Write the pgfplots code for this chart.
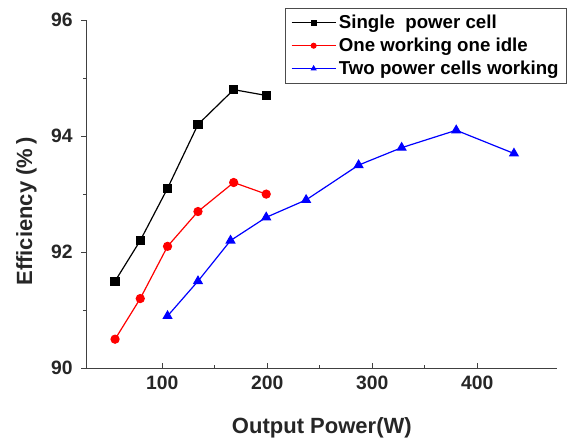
\documentclass[border=0pt]{standalone}
\usepackage{fontspec}
\setmainfont{Liberation Sans}
\usepackage{pgfplots}
\pgfplotsset{compat=1.18}

\begin{document}
\begin{tikzpicture}
\begin{axis}[
    name=ax,
    scale only axis,
    width=352.5pt, height=261pt,
    xmin=28, xmax=476,
    ymin=90, ymax=96,
    xtick={100,200,300,400},
    ytick={90,92,94,96},
    minor x tick num=1,
    minor y tick num=1,
    axis x line=bottom, axis y line=left,
    axis line style={-, line width=0.6pt, color=black!75},
    tick align=inside,
    major tick length=4pt, minor tick length=2.5pt,
    tick style={color=black!75, line width=0.6pt},
    major y tick style={xshift=-4pt},
    minor y tick style={xshift=-2.5pt},
    /pgf/number format/assume math mode=true,
    ticklabel style={font=\fontsize{14.5}{16}\selectfont\bfseries, color=black!85},
    yticklabel style={xshift=-7pt},
    xticklabel style={yshift=-2pt},
    xlabel={Output Power(W)},
    ylabel={Efficiency (\%\,)},
    label style={font=\fontsize{16.5}{18}\selectfont\bfseries, color=black!85},
    xlabel style={at={(axis description cs:0.5,-0.172)}, anchor=center},
    ylabel style={at={(axis description cs:-0.128,0.45)}, anchor=center},
    legend style={at={(axis description cs:1.0213,1.0345)}, anchor=north east,
        font=\fontsize{14}{16}\selectfont\bfseries,
        draw=black!70, line width=0.6pt, row sep=1.5pt,
        inner xsep=4pt, inner ysep=3pt},
    legend cell align=left,
    legend image code/.code={
        \draw[mark repeat=2, mark phase=2, #1, mark size=1.8pt]
        plot coordinates {(0cm,0cm) (0.58cm,0cm) (1.16cm,0cm)};},
    every axis plot/.append style={line width=0.9pt},
]
\addplot[black, mark=square*, mark size=3pt] coordinates {
    (55,91.5) (79,92.2) (105,93.1) (134,94.2) (168,94.8) (199,94.7)
};
\addlegendentry{Single\ \ power cell}
\addplot[red, mark=*, mark size=3pt] coordinates {
    (55,90.5) (79,91.2) (105,92.1) (134,92.7) (168,93.2) (199,93.0)
};
\addlegendentry{One working one idle}
\addplot[blue, mark=triangle*, mark size=3.6pt] coordinates {
    (105,90.9) (134,91.5) (165,92.2) (199,92.6) (237,92.9)
    (287,93.5) (328,93.8) (380,94.1) (435,93.7)
};
\addlegendentry{Two power cells working}
\end{axis}
\pgfresetboundingbox
\path ([shift={(-65pt,-52.5pt)}]ax.south west) rectangle ([shift={(18pt,15pt)}]ax.north east);
\end{tikzpicture}
\end{document}
